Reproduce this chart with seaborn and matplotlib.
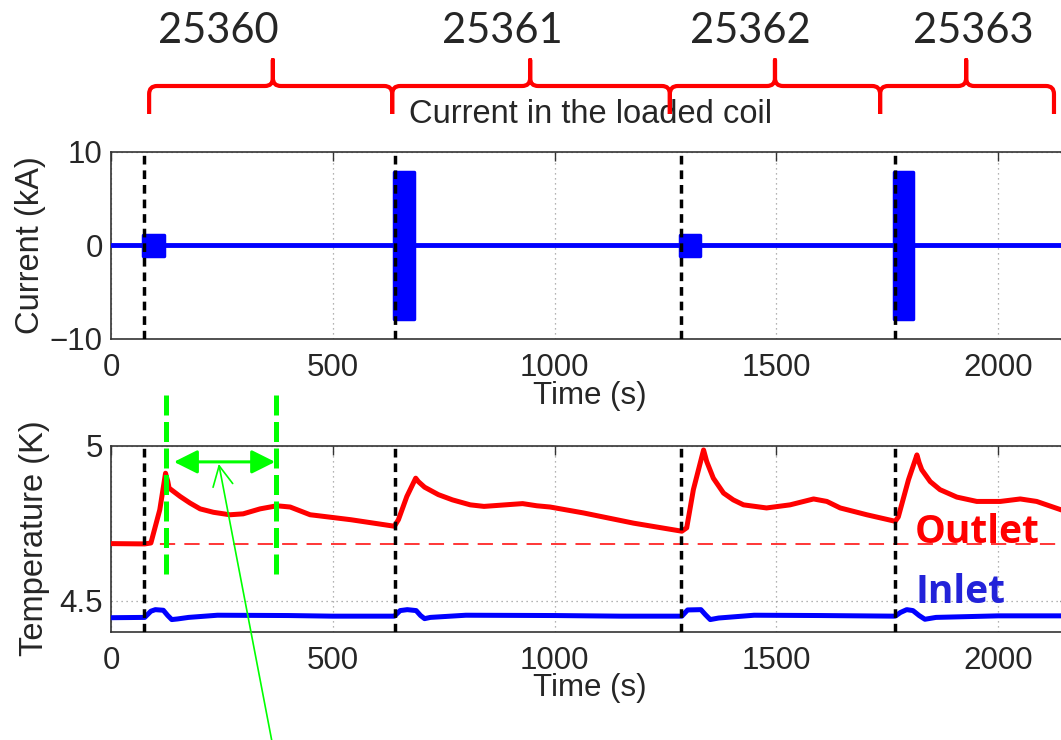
import matplotlib
matplotlib.use("Agg")
import matplotlib.pyplot as plt
import matplotlib.transforms as mtransforms
from matplotlib.path import Path
from matplotlib.patches import PathPatch
import pandas as pd
import seaborn as sns

# ---------------------------------------------------------------- data
shots = ["25360", "25361", "25362", "25363"]
shot_label_t = [241, 882, 1441, 1944]          # where each shot number sits
shot_edges_t = [86, 634, 1260, 1734, 2126]     # brace boundaries between shots
shot_peak_t = [365, 945, 1497, 1928]           # brace centre spikes

trigger_t = [75, 641, 1286, 1768]              # start of each discharge

pulse_start = [72, 637, 1282, 1765]
pulse_end = [120, 683, 1329, 1809]
pulse_amp = [1.15, 7.9, 1.15, 7.9]             # kA envelope of the AC pulses

outlet_t = [0, 76, 90, 110, 123, 128, 131, 156, 178, 201, 231, 268, 298,
            336, 374, 404, 449, 461, 541, 639, 648, 667, 687, 693, 707, 738,
            770, 810, 841, 889, 928, 960, 990, 1065, 1178, 1287, 1298, 1313,
            1336, 1343, 1358, 1381, 1403, 1426, 1478, 1531, 1584, 1614, 1644,
            1704, 1768, 1775, 1798, 1817, 1822, 1828, 1847, 1869, 1907, 1952,
            2005, 2050, 2087, 2142, 2160]
outlet_T = [4.684, 4.683, 4.686, 4.793, 4.911, 4.885, 4.863, 4.836, 4.815,
            4.796, 4.785, 4.777, 4.780, 4.796, 4.806, 4.802, 4.777, 4.775,
            4.761, 4.740, 4.761, 4.836, 4.895, 4.884, 4.866, 4.842, 4.825,
            4.809, 4.804, 4.809, 4.813, 4.806, 4.802, 4.783, 4.750, 4.724,
            4.735, 4.858, 4.986, 4.949, 4.895, 4.847, 4.825, 4.809, 4.799,
            4.809, 4.828, 4.820, 4.799, 4.777, 4.756, 4.770, 4.890, 4.970,
            4.945, 4.922, 4.884, 4.858, 4.834, 4.820, 4.820, 4.828, 4.820,
            4.793, 4.785]

inlet_t = [0, 76, 90, 100, 118, 128, 137, 150, 175, 240, 400, 500, 639,
           652, 668, 688, 698, 707, 720, 800, 1000, 1150, 1287, 1300, 1330,
           1340, 1351, 1370, 1450, 1600, 1768, 1780, 1794, 1808, 1822, 1835,
           1860, 2000, 2160]
inlet_T = [4.445, 4.446, 4.466, 4.471, 4.469, 4.452, 4.439, 4.441, 4.446,
           4.453, 4.452, 4.450, 4.450, 4.468, 4.471, 4.468, 4.452, 4.442,
           4.446, 4.453, 4.452, 4.450, 4.450, 4.470, 4.471, 4.455, 4.439,
           4.444, 4.453, 4.452, 4.450, 4.462, 4.471, 4.468, 4.452, 4.440,
           4.446, 4.451, 4.451]

outlet_ref = 4.684                   # outlet temperature before the first shot
window_t = [125, 371]                # green analysis window
window_arrow_t = [142, 370]

x_ticks = [0, 500, 1000, 1500, 2000]
cur_ticks = [-10, 0, 10]
temp_ticks = [4.5, 5.0]
temp_tick_labels = ["4.5", "5"]

# ---------------------------------------------------------------- style
sns.set_style("white")
plt.rcParams["font.family"] = ["Liberation Sans", "DejaVu Sans"]
plt.rcParams["axes.unicode_minus"] = True

W, H = 1061, 740
fig = plt.figure(figsize=(W / 100, H / 100), dpi=100)
XMAX = 2160
ax1 = fig.add_axes([0.1046, 0.5419, 0.903, 0.2527])
ax2 = fig.add_axes([0.1046, 0.1464, 0.903, 0.2514])

BLUE = "#0000ff"
RED = "#ff0000"
GREEN = "#00ff00"
TXT = 22.5


def style_axes(ax):
    ax.set_xlim(0, XMAX)
    ax.set_xticks(x_ticks)
    ax.grid(True, linestyle=(0, (1, 3)), color="#9a9a9a", linewidth=0.9)
    ax.set_axisbelow(True)
    for s in ax.spines.values():
        s.set_color("#333333")
        s.set_linewidth(1.2)
        s.set_visible(True)
    ax.tick_params(axis="both", direction="in", length=6.5, width=1.0,
                   color="#333333", top=True, right=True, labelsize=TXT)
    ax.tick_params(axis="x", pad=10)
    ax.tick_params(axis="y", pad=6)
    ax.set_xlabel("Time (s)", fontsize=TXT)
    ax.xaxis.set_label_coords(0.5, -0.222)
    for t in trigger_t:
        ax.axvline(t, color="black", linewidth=2.5, dashes=(2.5, 1.7), zorder=4)


# ---------------------------------------------------------------- current
style_axes(ax1)
base = pd.DataFrame({"t": [0, XMAX], "I": [0, 0]})
sns.lineplot(data=base, x="t", y="I", ax=ax1, color=BLUE, linewidth=3.5,
             estimator=None, zorder=3)
for s, e, a in zip(pulse_start, pulse_end, pulse_amp):
    ax1.fill_between([s, e], [-a, -a], [a, a], color=BLUE, edgecolor=BLUE,
                     linewidth=2.5, joinstyle="round", zorder=3)
ax1.set_ylim(-10, 10)
ax1.set_yticks(cur_ticks)
ax1.set_ylabel("Current (kA)", fontsize=23.5)
ax1.yaxis.set_label_coords(-0.068, 0.5)
ax1.text(0.5, 1.155, "Current in the loaded coil", transform=ax1.transAxes,
         ha="center", va="baseline", fontsize=23.5)

# ---------------------------------------------------------------- temperature
style_axes(ax2)
temps = pd.concat([
    pd.DataFrame({"t": outlet_t, "T": outlet_T, "probe": "Outlet"}),
    pd.DataFrame({"t": inlet_t, "T": inlet_T, "probe": "Inlet"}),
])
sns.lineplot(data=temps, x="t", y="T", hue="probe", ax=ax2,
             palette={"Outlet": RED, "Inlet": BLUE}, linewidth=3.6,
             estimator=None, legend=False, zorder=3)
for line in ax2.get_lines():
    line.set_solid_joinstyle("round")
ax2.axhline(outlet_ref, color=RED, linewidth=1.1, dashes=(10, 6), zorder=2)
ax2.set_ylim(4.4, 5.0)
ax2.set_yticks(temp_ticks)
ax2.set_yticklabels(temp_tick_labels)
ax2.set_ylabel("Temperature (K)", fontsize=23.5)
ax2.yaxis.set_label_coords(-0.064, 0.5)

ax2.text(1813, 4.686, "Outlet", color=RED, fontsize=28, fontweight="bold",
         family=["Open Sans", "DejaVu Sans"], va="baseline", zorder=6)
ax2.text(1813, 4.494, "Inlet", color="#2323d9", fontsize=28, fontweight="bold",
         family=["Open Sans", "DejaVu Sans"], va="baseline", zorder=6)

# green analysis window
for t in window_t:
    ax2.plot([t, t], [4.5845, 5.179], color=GREEN, linewidth=3.6,
             dashes=(4, 1.3), clip_on=False, zorder=5)
ax2.annotate("", xy=(window_arrow_t[0], 4.9476), xytext=(window_arrow_t[1], 4.9476),
             arrowprops=dict(arrowstyle="<|-|>,head_length=0.9,head_width=0.45",
                             color=GREEN, linewidth=2.2, shrinkA=0, shrinkB=0,
                             mutation_scale=16),
             annotation_clip=False, zorder=6)
ax2.annotate("", xy=(243, 4.941), xytext=(363, 4.045),
             arrowprops=dict(arrowstyle="->,head_length=0.9,head_width=0.45",
                             color=GREEN, linewidth=1.2, shrinkA=0, shrinkB=0,
                             mutation_scale=16),
             annotation_clip=False, zorder=6)

# ---------------------------------------------------------------- shot braces
fig.canvas.draw()
to_px = lambda t: ax1.transData.transform((t, 0))[0]
y_tip, y_bar, y_peak, r = H - 114, H - 86, H - 60, 8


def brace_path(x0, x1, xp):
    verts = [(x0, y_tip), (x0, y_bar - r), (x0, y_bar), (x0 + r, y_bar),
             (xp - r, y_bar), (xp, y_bar), (xp, y_bar + r), (xp, y_peak),
             (xp, y_bar + r), (xp, y_bar), (xp + r, y_bar),
             (x1 - r, y_bar), (x1, y_bar), (x1, y_bar - r), (x1, y_tip)]
    codes = [Path.MOVETO, Path.LINETO, Path.CURVE3, Path.CURVE3,
             Path.LINETO, Path.CURVE3, Path.CURVE3, Path.LINETO,
             Path.LINETO, Path.CURVE3, Path.CURVE3,
             Path.LINETO, Path.CURVE3, Path.CURVE3, Path.LINETO]
    return Path(verts, codes)


for i, lab in enumerate(shots):
    x0, x1 = to_px(shot_edges_t[i]), to_px(shot_edges_t[i + 1])
    xp = to_px(shot_peak_t[i])
    patch = PathPatch(brace_path(x0, x1, xp), facecolor="none", edgecolor=RED,
                      linewidth=3.0, capstyle="butt", joinstyle="round",
                      transform=mtransforms.IdentityTransform())
    fig.add_artist(patch)
    fig.text(to_px(shot_label_t[i]) / W, 1 - 43 / H, lab, ha="center",
             va="baseline", fontsize=30, family=["Lato", "DejaVu Sans"])

fig.savefig("out.png", dpi=100)
